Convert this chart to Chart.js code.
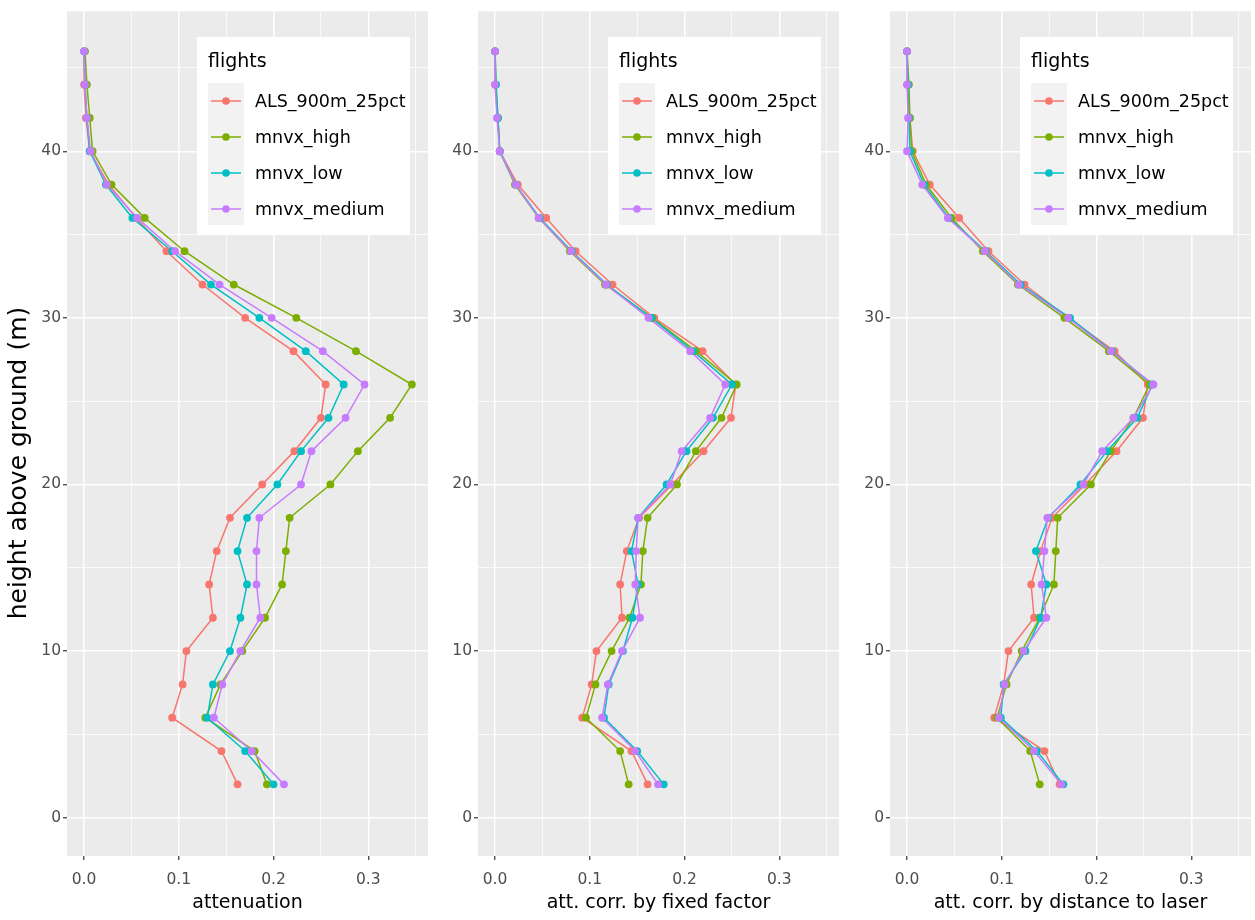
<!DOCTYPE html>
<html>
<head>
<meta charset="utf-8">
<script src="https://cdn.jsdelivr.net/npm/chart.js@4.4.1/dist/chart.umd.min.js"></script>
<style>
    body { margin: 0; background: #ffffff; }
    #wrap { position: relative; width: 1255px; height: 920px; overflow: hidden; }
    canvas { position: absolute; top: 0; }
</style>
</head>
<body>
<div id="wrap">
    <canvas id="chart1" width="440" height="920" style="left:0px"></canvas>
    <canvas id="chart2" width="410" height="920" style="left:440px"></canvas>
    <canvas id="chart3" width="405" height="920" style="left:850px"></canvas>
</div>
<script>
// Alturas sobre el suelo (m), de abajo hacia arriba.
const HEIGHTS = [2, 4, 6, 8, 10, 12, 14, 16, 18, 20, 22, 24, 26, 28, 30, 32, 34, 36, 38, 40, 42, 44, 46];

// Nombres de los vuelos y sus colores.
const FLIGHTS = ['ALS_900m_25pct', 'mnvx_high', 'mnvx_low', 'mnvx_medium'];
const COLORS = ['#F8766D', '#7CAE00', '#00BFC4', '#C77CFF'];

// Panel 1: attenuation.
const ATT_ALS = [0.162, 0.145, 0.093, 0.104, 0.108, 0.136, 0.132, 0.140, 0.154, 0.188, 0.222, 0.250, 0.255, 0.221, 0.170, 0.125, 0.087, 0.055, 0.026, 0.006, 0.002, 0.000, 0.000];
const ATT_HIGH = [0.193, 0.180, 0.128, 0.144, 0.167, 0.191, 0.209, 0.213, 0.217, 0.260, 0.289, 0.323, 0.346, 0.287, 0.224, 0.158, 0.106, 0.064, 0.029, 0.009, 0.006, 0.003, 0.001];
const ATT_LOW = [0.200, 0.170, 0.130, 0.136, 0.154, 0.165, 0.172, 0.162, 0.172, 0.204, 0.229, 0.258, 0.274, 0.234, 0.185, 0.134, 0.093, 0.051, 0.023, 0.006, 0.003, 0.001, 0.000];
const ATT_MEDIUM = [0.211, 0.177, 0.137, 0.146, 0.165, 0.186, 0.182, 0.182, 0.185, 0.229, 0.240, 0.276, 0.296, 0.252, 0.198, 0.143, 0.096, 0.056, 0.024, 0.007, 0.003, 0.001, 0.000];

// Panel 2: att. corr. by fixed factor.
const FIX_ALS = [0.161, 0.144, 0.092, 0.102, 0.107, 0.134, 0.132, 0.139, 0.152, 0.187, 0.220, 0.249, 0.254, 0.219, 0.168, 0.124, 0.085, 0.054, 0.024, 0.005, 0.003, 0.000, 0.000];
const FIX_HIGH = [0.141, 0.132, 0.096, 0.106, 0.123, 0.142, 0.154, 0.156, 0.161, 0.192, 0.212, 0.239, 0.255, 0.212, 0.166, 0.116, 0.079, 0.046, 0.021, 0.005, 0.003, 0.001, 0.000];
const FIX_LOW = [0.178, 0.150, 0.115, 0.120, 0.135, 0.145, 0.151, 0.144, 0.151, 0.181, 0.202, 0.230, 0.250, 0.209, 0.165, 0.118, 0.081, 0.047, 0.022, 0.005, 0.003, 0.001, 0.000];
const FIX_MEDIUM = [0.172, 0.148, 0.113, 0.119, 0.134, 0.153, 0.148, 0.149, 0.151, 0.185, 0.197, 0.227, 0.243, 0.206, 0.162, 0.117, 0.080, 0.046, 0.022, 0.005, 0.002, 0.000, 0.000];

// Panel 3: att. corr. by distance to laser.
const DIST_ALS = [0.161, 0.145, 0.092, 0.102, 0.107, 0.134, 0.131, 0.141, 0.153, 0.188, 0.221, 0.249, 0.254, 0.219, 0.170, 0.124, 0.086, 0.055, 0.024, 0.006, 0.003, 0.000, 0.000];
const DIST_HIGH = [0.140, 0.130, 0.095, 0.105, 0.121, 0.140, 0.155, 0.157, 0.159, 0.194, 0.215, 0.239, 0.256, 0.213, 0.166, 0.117, 0.080, 0.047, 0.020, 0.005, 0.003, 0.002, 0.000];
const DIST_LOW = [0.165, 0.137, 0.099, 0.102, 0.125, 0.141, 0.147, 0.136, 0.149, 0.183, 0.211, 0.243, 0.259, 0.216, 0.172, 0.120, 0.083, 0.044, 0.018, 0.003, 0.002, 0.001, 0.000];
const DIST_MEDIUM = [0.163, 0.134, 0.097, 0.103, 0.123, 0.147, 0.142, 0.145, 0.148, 0.186, 0.206, 0.239, 0.260, 0.215, 0.170, 0.118, 0.082, 0.043, 0.016, 0.000, 0.001, 0.000, 0.000];

// Marcas y etiquetas de los ejes (las vacías son líneas menores).
const X_TICKS = [0, 0.05, 0.1, 0.15, 0.2, 0.25, 0.3, 0.35];
const X_TICK_LABELS = ['0.0', '', '0.1', '', '0.2', '', '0.3', ''];
const Y_TICKS = [0, 5, 10, 15, 20, 25, 30, 35, 40, 45];
const Y_TICK_LABELS = ['0', '', '10', '', '20', '', '30', '', '40', ''];

const Y_TITLE = 'height above ground (m)';
const FONT = 'DejaVu Sans';

// Fondo gris del panel.
const panelBackground = {
    id: 'panelBackground',
    beforeDraw(chart) {
        const { ctx, chartArea } = chart;
        ctx.save();
        ctx.fillStyle = '#EBEBEB';
        ctx.fillRect(chartArea.left, chartArea.top, chartArea.right - chartArea.left, chartArea.bottom - chartArea.top);
        ctx.restore();
    }
};

// Título del eje Y (solo en el primer panel), girado.
const yTitle = {
    id: 'yTitle',
    afterDraw(chart, args, opts) {
        if (!opts.show) return;
        const { ctx } = chart;
        ctx.save();
        ctx.translate(19, 463);
        ctx.rotate(-Math.PI / 2);
        ctx.fillStyle = '#000000';
        ctx.font = `25px "${FONT}"`;
        ctx.textAlign = 'center';
        ctx.textBaseline = 'middle';
        ctx.fillText(Y_TITLE, 0, 0);
        ctx.restore();
    }
};

// Leyenda dentro del panel, arriba a la derecha.
const insideLegend = {
    id: 'insideLegend',
    afterDraw(chart) {
        const { ctx, chartArea } = chart;
        const x = chartArea.left + 130;
        const y = 37;
        ctx.save();
        ctx.fillStyle = '#ffffff';
        ctx.fillRect(x, y, 213, 198);
        ctx.fillStyle = '#000000';
        ctx.font = `19px "${FONT}"`;
        ctx.textBaseline = 'alphabetic';
        ctx.textAlign = 'left';
        ctx.fillText('flights', x + 11, y + 30);
        ctx.fillStyle = '#F2F2F2';
        ctx.fillRect(x + 11, y + 46, 36, 142);
        FLIGHTS.forEach((name, i) => {
            const cy = y + 64 + 36 * i;
            ctx.strokeStyle = COLORS[i];
            ctx.lineWidth = 1.5;
            ctx.beginPath();
            ctx.moveTo(x + 14, cy);
            ctx.lineTo(x + 44, cy);
            ctx.stroke();
            ctx.fillStyle = COLORS[i];
            ctx.beginPath();
            ctx.arc(x + 29, cy, 3.8, 0, Math.PI * 2);
            ctx.fill();
            ctx.fillStyle = '#000000';
            ctx.font = `17.5px "${FONT}"`;
            ctx.textBaseline = 'middle';
            ctx.fillText(name, x + 58, cy + 1);
        });
        ctx.restore();
    }
};

// Función para crear un panel con sus cuatro perfiles.
const drawPanel = (id, series, xTitle, yAxisWidth, padRight, showYTitle) => {
    const datasets = [];
    // Primero las líneas (debajo), luego los puntos (encima), como en ggplot.
    series.forEach((values, i) => {
        datasets.push({
            label: FLIGHTS[i],
            data: HEIGHTS.map((h, k) => ({ x: values[k], y: h })),
            showLine: true,
            borderColor: COLORS[i],
            borderWidth: 1.5,
            pointRadius: 0,
            order: 20 - i
        });
    });
    series.forEach((values, i) => {
        datasets.push({
            label: FLIGHTS[i] + ' points',
            data: HEIGHTS.map((h, k) => ({ x: values[k], y: h })),
            showLine: false,
            backgroundColor: COLORS[i],
            borderColor: COLORS[i],
            borderWidth: 0,
            pointRadius: 3.9,
            order: 10 - i
        });
    });
    new Chart(document.getElementById(id), {
        type: 'scatter',
        data: { datasets },
        options: {
            responsive: false,
            animation: false,
            events: [],
            layout: { padding: { left: 0, right: padRight, top: 8, bottom: 0 } },
            plugins: {
                legend: { display: false },
                tooltip: { enabled: false },
                yTitle: { show: showYTitle }
            },
            scales: {
                x: {
                    type: 'linear',
                    min: -0.018,
                    max: 0.363,
                    afterBuildTicks: (scale) => { scale.ticks = X_TICKS.map(v => ({ value: v })); },
                    afterFit: (scale) => { scale.height = 64; },
                    border: { display: false },
                    grid: {
                        color: '#ffffff',
                        lineWidth: (c) => (X_TICK_LABELS[c.index] ? 1.5 : 0.75),
                        tickColor: (c) => (X_TICK_LABELS[c.index] ? '#333333' : 'rgba(0,0,0,0)'),
                        tickLength: 4,
                        tickWidth: 1.2
                    },
                    ticks: {
                        autoSkip: false,
                        maxRotation: 0,
                        padding: 11,
                        color: '#4D4D4D',
                        font: { family: FONT, size: 15.5 },
                        callback: (value, index) => X_TICK_LABELS[index]
                    },
                    title: {
                        display: true,
                        text: xTitle,
                        color: '#000000',
                        font: { family: FONT, size: 19 },
                        padding: { top: 0, bottom: 6 }
                    }
                },
                y: {
                    type: 'linear',
                    min: -2.3,
                    max: 48.4,
                    afterBuildTicks: (scale) => { scale.ticks = Y_TICKS.map(v => ({ value: v })); },
                    afterFit: (scale) => { scale.width = yAxisWidth; },
                    border: { display: false },
                    grid: {
                        color: '#ffffff',
                        lineWidth: (c) => (Y_TICK_LABELS[c.index] ? 1.5 : 0.75),
                        tickColor: (c) => (Y_TICK_LABELS[c.index] ? '#333333' : 'rgba(0,0,0,0)'),
                        tickLength: 4,
                        tickWidth: 1.2
                    },
                    ticks: {
                        autoSkip: false,
                        padding: 2,
                        color: '#4D4D4D',
                        font: { family: FONT, size: 15.5 },
                        callback: (value, index) => Y_TICK_LABELS[index]
                    }
                }
            }
        },
        plugins: [panelBackground, insideLegend, yTitle]
    });
};

document.addEventListener('DOMContentLoaded', () => {
    drawPanel('chart1', [ATT_ALS, ATT_HIGH, ATT_LOW, ATT_MEDIUM], 'attenuation', 67, 12, true);
    drawPanel('chart2', [FIX_ALS, FIX_HIGH, FIX_LOW, FIX_MEDIUM], 'att. corr. by fixed factor', 38, 11, false);
    drawPanel('chart3', [DIST_ALS, DIST_HIGH, DIST_LOW, DIST_MEDIUM], 'att. corr. by distance to laser', 40, 4, false);
});
</script>
</body>
</html>
